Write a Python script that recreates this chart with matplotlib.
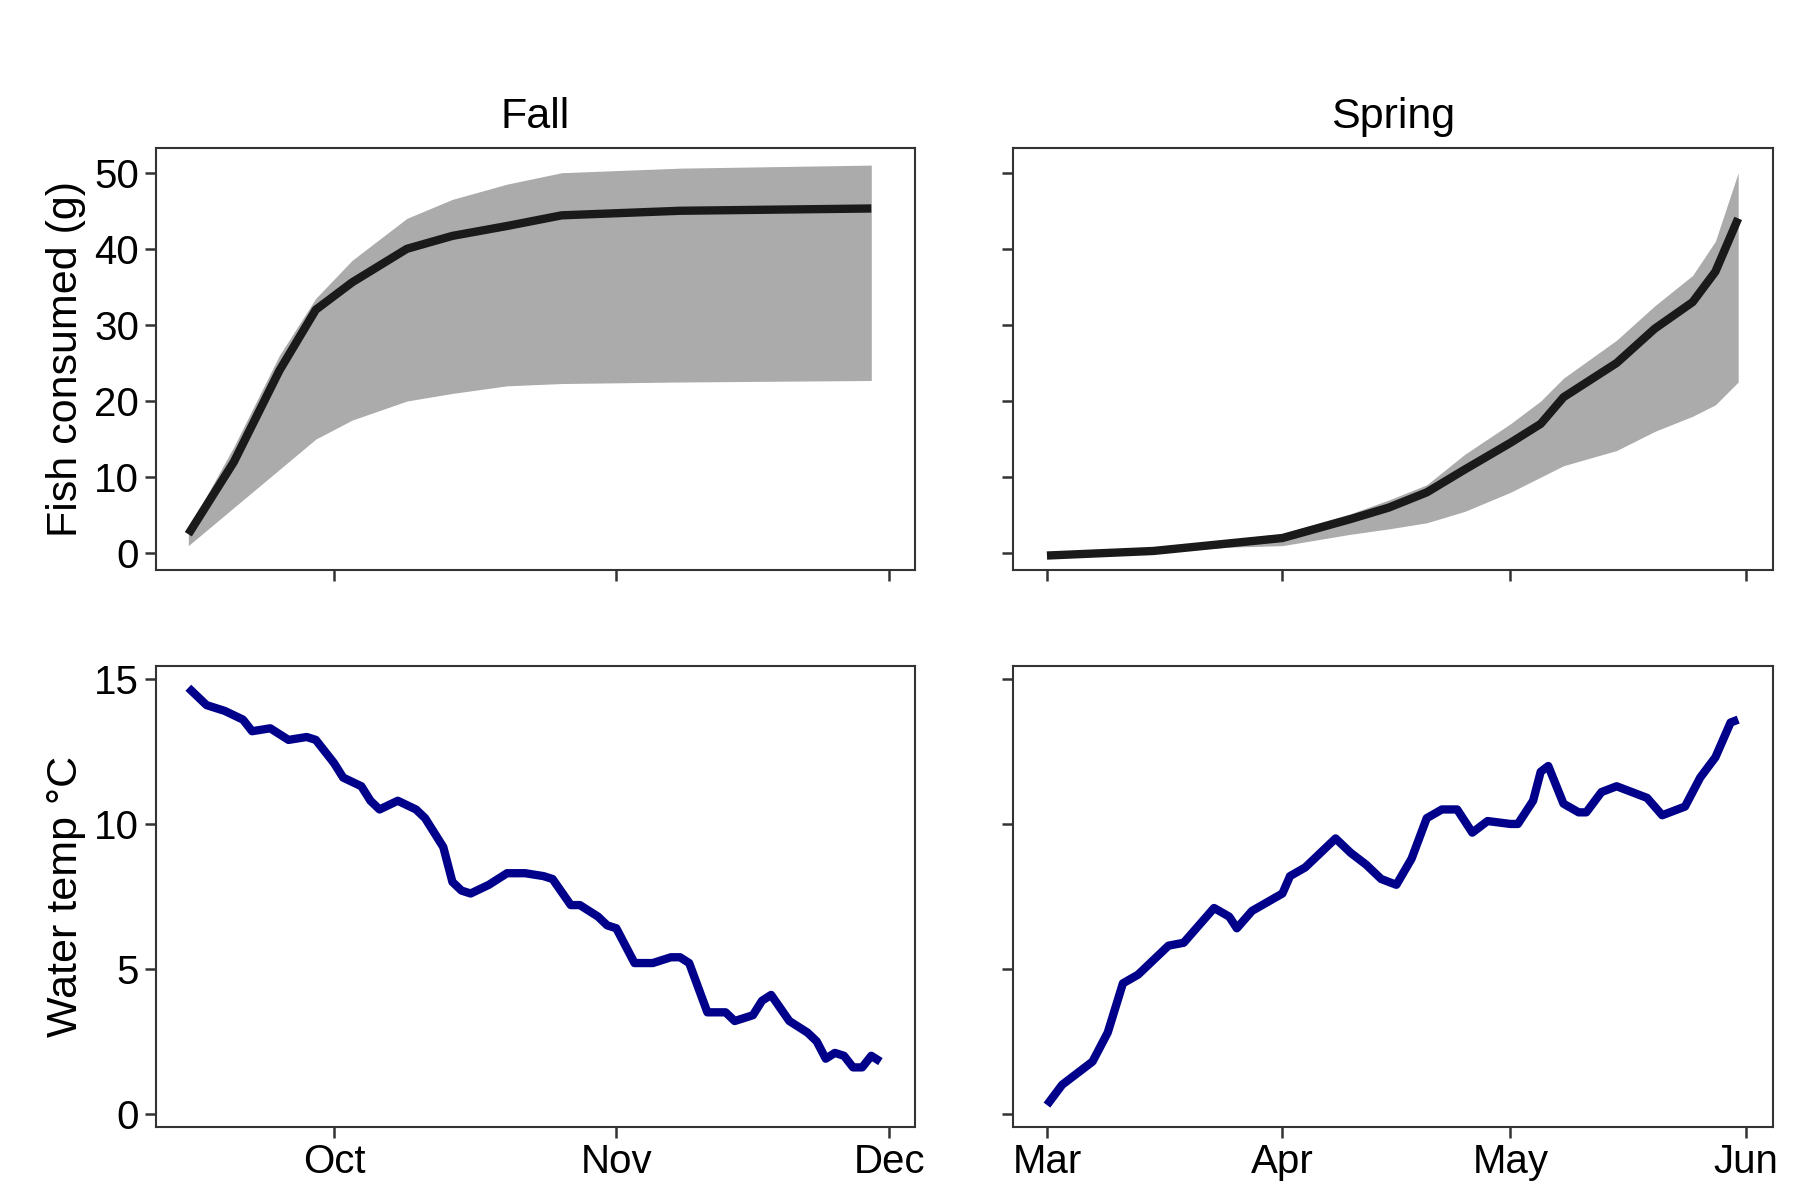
import matplotlib
matplotlib.use("Agg")
import matplotlib.pyplot as plt
import matplotlib.dates as mdates
import pandas as pd

# Fall consumption
fall_c_dates = ["2019-09-15","2019-09-20","2019-09-25","2019-09-29","2019-10-03","2019-10-09","2019-10-14","2019-10-20","2019-10-26","2019-11-08","2019-11-29"]
fall_c_mean  = [2.5, 12, 24, 32, 35.6, 40, 41.7, 43, 44.4, 45, 45.3]
fall_c_upper = [3.2, 14, 26, 33.5, 38.5, 44, 46.5, 48.5, 50, 50.6, 51]
fall_c_lower = [1.0, 6, 11, 15, 17.5, 20, 21, 22, 22.3, 22.5, 22.7]

# Spring consumption
spr_c_dates = ["2019-03-01","2019-03-15","2019-03-25","2019-04-01","2019-04-10","2019-04-15","2019-04-20","2019-04-25","2019-05-01","2019-05-05","2019-05-08","2019-05-15","2019-05-20","2019-05-25","2019-05-28","2019-05-31"]
spr_c_mean  = [-0.3, 0.3, 1.3, 2.0, 4.5, 6.0, 8.0, 11.0, 14.5, 17.0, 20.5, 25.0, 29.5, 33.0, 37.0, 44.0]
spr_c_upper = [0.2, 0.6, 1.8, 2.6, 5.2, 7.0, 9.0, 13.0, 17.0, 20.0, 23.0, 28.0, 32.5, 36.5, 41.0, 50.0]
spr_c_lower = [-0.6, 0.1, 0.8, 1.0, 2.5, 3.2, 4.0, 5.5, 8.0, 10.0, 11.5, 13.5, 16.0, 18.0, 19.5, 22.5]

# Water temperature
fall_t_dates = ["2019-09-15","2019-09-17","2019-09-19","2019-09-21","2019-09-22","2019-09-24","2019-09-25","2019-09-26","2019-09-28","2019-09-29","2019-10-01","2019-10-02","2019-10-04","2019-10-05","2019-10-06","2019-10-08","2019-10-10","2019-10-11","2019-10-13","2019-10-14","2019-10-15","2019-10-16","2019-10-18","2019-10-20","2019-10-22","2019-10-24","2019-10-25","2019-10-27","2019-10-28","2019-10-30","2019-10-31","2019-11-01","2019-11-03","2019-11-05","2019-11-07","2019-11-08","2019-11-09","2019-11-11","2019-11-13","2019-11-14","2019-11-16","2019-11-17","2019-11-18","2019-11-20","2019-11-22","2019-11-23","2019-11-24","2019-11-25","2019-11-26","2019-11-27","2019-11-28","2019-11-29","2019-11-30"]
fall_t = [14.7,14.1,13.9,13.6,13.2,13.3,13.1,12.9,13.0,12.9,12.1,11.6,11.3,10.8,10.5,10.8,10.5,10.2,9.2,8.0,7.7,7.6,7.9,8.3,8.3,8.2,8.1,7.2,7.2,6.8,6.5,6.4,5.2,5.2,5.4,5.4,5.2,3.5,3.5,3.2,3.4,3.9,4.1,3.2,2.8,2.5,1.9,2.1,2.0,1.6,1.6,2.0,1.8]
spr_t_dates = ["2019-03-01","2019-03-03","2019-03-05","2019-03-07","2019-03-09","2019-03-11","2019-03-13","2019-03-15","2019-03-17","2019-03-19","2019-03-21","2019-03-23","2019-03-25","2019-03-26","2019-03-28","2019-03-30","2019-04-01","2019-04-02","2019-04-04","2019-04-06","2019-04-08","2019-04-10","2019-04-12","2019-04-14","2019-04-16","2019-04-18","2019-04-20","2019-04-22","2019-04-24","2019-04-26","2019-04-28","2019-05-01","2019-05-02","2019-05-04","2019-05-05","2019-05-06","2019-05-08","2019-05-10","2019-05-11","2019-05-13","2019-05-15","2019-05-17","2019-05-19","2019-05-21","2019-05-23","2019-05-24","2019-05-26","2019-05-28","2019-05-30","2019-05-31"]
spr_t = [0.3,1.0,1.4,1.8,2.8,4.5,4.8,5.3,5.8,5.9,6.5,7.1,6.8,6.4,7.0,7.3,7.6,8.2,8.5,9.0,9.5,9.0,8.6,8.1,7.9,8.8,10.2,10.5,10.5,9.7,10.1,10.0,10.0,10.8,11.8,12.0,10.7,10.4,10.4,11.1,11.3,11.1,10.9,10.3,10.5,10.6,11.6,12.3,13.5,13.6]

D = pd.to_datetime
plt.rcParams['font.family'] = ['Liberation Sans', 'DejaVu Sans']
fig = plt.figure(figsize=(18, 12), dpi=100)
L = [0.0865, 0.563]; W = 0.422
axes = [[fig.add_axes([L[c], 0.525, W, 0.352]) for c in range(2)],
        [fig.add_axes([L[c], 0.061, W, 0.384]) for c in range(2)]]
grey = "#ababab"; navy = "#00008b"
a = axes[0][0]
a.fill_between(D(fall_c_dates), fall_c_lower, fall_c_upper, color=grey, lw=0)
a.plot(D(fall_c_dates), fall_c_mean, color="#1a1a1a", lw=6, solid_capstyle="butt")
a = axes[0][1]
a.fill_between(D(spr_c_dates), spr_c_lower, spr_c_upper, color=grey, lw=0)
a.plot(D(spr_c_dates), spr_c_mean, color="#1a1a1a", lw=6, solid_capstyle="butt")
axes[1][0].plot(D(fall_t_dates), fall_t, color=navy, lw=6, solid_capstyle="butt")
axes[1][1].plot(D(spr_t_dates), spr_t, color=navy, lw=6, solid_capstyle="butt")

for r in range(2):
    for c in range(2):
        a = axes[r][c]
        for s in a.spines.values():
            s.set_linewidth(1.5); s.set_color("#333333")
        a.tick_params(labelsize=29, width=1.8, length=8, color="#333333", direction="out", pad=4)
        if c == 0:
            a.set_xlim(D("2019-09-11 10:00"), D("2019-12-03 20:00"))
            a.set_xticks(D(["2019-10-01", "2019-11-01", "2019-12-01"]))
        else:
            a.set_xlim(D("2019-02-24 14:00"), D("2019-06-04 14:00"))
            a.set_xticks(D(["2019-03-01", "2019-04-01", "2019-05-01", "2019-06-01"]))
        a.xaxis.set_major_formatter(mdates.DateFormatter("%b"))
        if r == 0:
            a.set_ylim(-2.2, 53.3); a.set_yticks([0, 10, 20, 30, 40, 50])
            a.tick_params(labelbottom=False)
        else:
            a.set_ylim(-0.45, 15.45); a.set_yticks([0, 5, 10, 15])
        if c == 1:
            a.tick_params(labelleft=False)
axes[0][0].set_title("Fall", fontsize=31, pad=14)
axes[0][1].set_title("Spring", fontsize=31, pad=14)
axes[0][0].set_ylabel("Fish consumed (g)", fontsize=31, labelpad=6)
axes[1][0].set_ylabel("Water temp °C", fontsize=31, labelpad=6)
fig.savefig("out.png", dpi=100, facecolor="white")
